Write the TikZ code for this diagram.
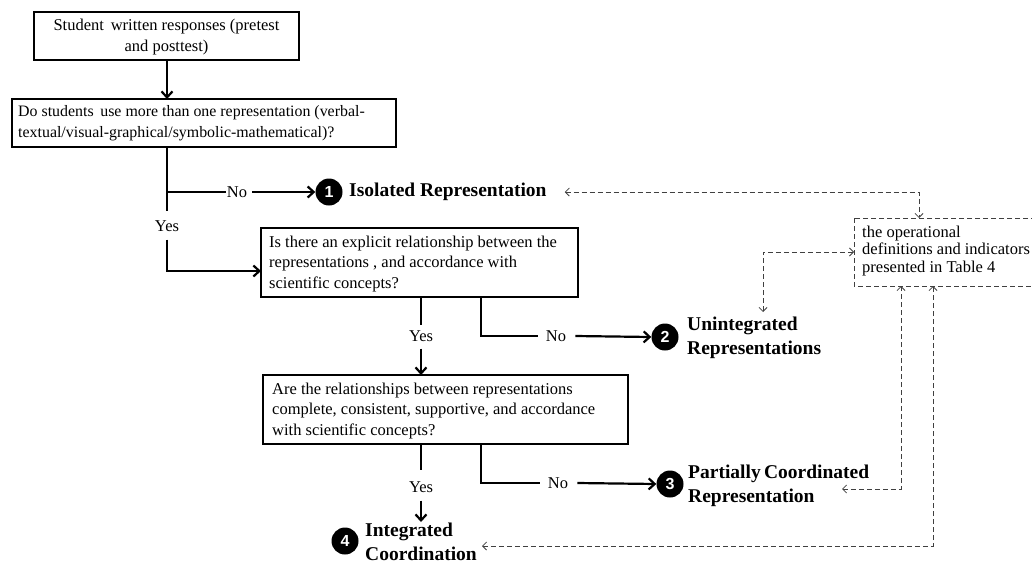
\documentclass[tikz,border=0pt]{standalone}
\usepackage{fontspec}
\setmainfont{Liberation Serif}
\newfontfamily\numfont{Liberation Sans}
\usetikzlibrary{arrows.meta}
\begin{document}
\begin{tikzpicture}[x=1pt,y=-1pt,
  qbox/.style={draw,line width=2.2pt},
  txt/.style={font=\fontsize{16.5}{20.5}\selectfont,inner sep=0pt},
  lbl/.style={font=\fontsize{16.5}{20}\selectfont,inner sep=0pt},
  res/.style={font=\fontsize{19.5}{23.5}\bfseries\selectfont,align=left,anchor=west,inner sep=0pt},
  num/.style={circle,fill=black,text=white,minimum size=27pt,inner sep=0pt,font=\numfont\bfseries\fontsize{16}{16}\selectfont},
  flow/.style={line width=2.2pt},
  flowa/.style={line width=2.2pt,-{Straight Barb[length=6pt,width=11pt]}},
  ref/.style={line width=0.8pt,draw=black!75,dash pattern=on 5pt off 3pt,{Straight Barb[length=4pt,width=8pt]}-{Straight Barb[length=4pt,width=8pt]}}
]
\useasboundingbox (0,0) rectangle (1032,565);
\clip (0,0) rectangle (1032,565);
% question boxes
\draw[qbox] (34,12) rectangle (299,60);
\node[txt,align=center] (a) at (166.5,37) {Student\, written responses (pretest\\and posttest)};
\coordinate (aS) at (167,60);
\draw[qbox] (12,99) rectangle (396,147);
\node[txt,align=left,anchor=west,font=\fontsize{15.9}{20.5}\selectfont] (b) at (18,123) {Do students\, use more than one representation (verbal-\\textual/visual-graphical/symbolic-mathematical)?};
\coordinate (bN) at (167,99);
\coordinate (bS) at (167,147);
\draw[qbox] (261,228) rectangle (578,297);
\node[txt,align=left,anchor=west] (c) at (269,264) {Is there an explicit relationship between the\\representations , and accordance with\\scientific concepts?};
\draw[qbox] (263,375) rectangle (628,444);
\node[txt,align=left,anchor=west] (e) at (272,411) {Are the relationships between representations\\complete, consistent, supportive, and accordance\\with scientific concepts?};
\draw[line width=0.8pt,draw=black!75,dash pattern=on 5pt off 3pt] (854,218) rectangle (1045,286);
\node[align=left,anchor=west,inner sep=0pt,font=\fontsize{16.5}{17.5}\selectfont] (d) at (862,251) {the operational\\definitions and indicators\\presented in Table 4};
% result nodes
\node[num] (n1) at (329,192) {1};
\node[res] (r1) at (349,192) {Isolated Representation};
\node[num] (n2) at (665,337) {2};
\node[res] (r2) at (687,338) {Unintegrated\\Representations};
\node[num] (n3) at (670,484) {3};
\node[res] (r3) at (688,486) {Partially\,Coordinated\\Representation};
\node[num] (n4) at (345,541) {4};
\node[res] (r4) at (365,542) {Integrated\\Coordination};
% labels
\node[lbl] (no1) at (237,192) {No};
\node[lbl] (yes1) at (167,226) {Yes};
\node[lbl] (yes2) at (421,336) {Yes};
\node[lbl] (no2) at (556,336) {No};
\node[lbl] (yes3) at (421,487) {Yes};
\node[lbl] (no3) at (558,483) {No};
% solid connectors
\draw[flowa] (aS) -- (bN);
\draw[flow] (bS) -- ([yshift=9pt]yes1.north);
\draw[flowa] ([yshift=-8pt]yes1.south) |- (261,271);
\draw[flow] (167,192) -- ([xshift=-1pt]no1.west);
\draw[flowa] ([xshift=5pt]no1.east) -- (n1.west);
\draw[flow] (421,297) -- ([yshift=5pt]yes2.north);
\draw[flowa] ([yshift=-7pt]yes2.south) -- (421,375);
\draw[flow] (481,297) |- ([xshift=-8pt]no2.west);
\draw[flowa] ([xshift=9pt]no2.east) -- (n2.west);
\draw[flow] (421,444) -- ([yshift=11pt]yes3.north);
\draw[flowa] ([yshift=-8pt]yes3.south) -- (421,522);
\draw[flow] (481,444) |- ([xshift=-8pt]no3.west);
\draw[flowa] ([xshift=9pt]no3.east) -- (n3.west);
% dashed references
\coordinate (d1) at (919,218);
\draw[ref] ([xshift=18pt]r1.east) -| (d1);
\coordinate (d2) at (854,252);
\draw[ref] (763,312) |- (d2);
\coordinate (d3) at (901,286);
\draw[ref] (842,489) -| (d3);
\coordinate (d4) at (933,286);
\draw[ref] (482,546) -| (d4);
\end{tikzpicture}
\end{document}
